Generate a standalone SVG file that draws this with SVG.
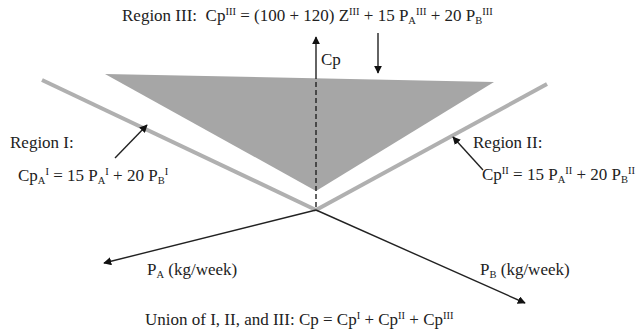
<svg xmlns="http://www.w3.org/2000/svg" width="643" height="331" viewBox="0 0 643 331">
<defs>
<marker id="ah" viewBox="0 0 10 10" refX="9" refY="5" markerWidth="8" markerHeight="8" markerUnits="userSpaceOnUse" orient="auto"><path d="M0,0 L10,5 L0,10 z" fill="#111"/></marker>
</defs>
<style>
text{font-family:"Liberation Serif","Times New Roman",serif;font-size:17px;fill:#222}
.s{font-size:10.5px}
.ax{stroke:#222;stroke-width:1.4;fill:none}
.gl{stroke:#b0b0b0;stroke-width:4;fill:none}
</style>
<rect width="643" height="331" fill="#fff"/>
<g id="regionIII-plane"><polygon points="105,74 494,82 316,191" fill="#a6a6a6"/></g>
<g id="regionI-line"><line class="gl" x1="42" y1="80" x2="316" y2="210"/></g>
<g id="regionII-line"><line class="gl" x1="547" y1="84" x2="316" y2="210"/></g>
<g id="connectors">
<line class="ax" x1="316" y1="74" x2="316" y2="37" marker-end="url(#ah)"/>
<line class="ax" x1="316" y1="74" x2="316" y2="210" stroke-dasharray="5,3"/>
<line class="ax" x1="316" y1="210" x2="104" y2="263" marker-end="url(#ah)"/>
<line class="ax" x1="316" y1="210" x2="525" y2="303" marker-end="url(#ah)"/>
<line class="ax" x1="378" y1="33" x2="378" y2="73" marker-end="url(#ah)"/>
<line class="ax" x1="115" y1="158" x2="147" y2="125" marker-end="url(#ah)"/>
<line class="ax" x1="483" y1="170" x2="453" y2="137" marker-end="url(#ah)"/>
</g>
<g id="title"><text x="122" y="21">Region III:&#160; Cp<tspan class="s" dy="-6">III</tspan><tspan dy="6"> = (100 + 120) Z</tspan><tspan class="s" dy="-6">III</tspan><tspan dy="6"> + 15 P</tspan><tspan class="s" dy="3">A</tspan><tspan class="s" dy="-9">III</tspan><tspan dy="6"> + 20 P</tspan><tspan class="s" dy="3">B</tspan><tspan class="s" dy="-9">III</tspan></text></g>
<g id="cp-label"><text x="321" y="65">Cp</text></g>
<g id="regionI"><text x="10" y="148">Region I:</text>
<text x="18" y="181">Cp<tspan class="s" dy="3">A</tspan><tspan class="s" dy="-9">I</tspan><tspan dy="6"> = 15 P</tspan><tspan class="s" dy="3">A</tspan><tspan class="s" dy="-9">I</tspan><tspan dy="6"> + 20 P</tspan><tspan class="s" dy="3">B</tspan><tspan class="s" dy="-9">I</tspan></text></g>
<g id="regionII"><text x="473" y="148">Region II:</text>
<text x="482" y="180">Cp<tspan class="s" dy="-6">II</tspan><tspan dy="6"> = 15 P</tspan><tspan class="s" dy="3">A</tspan><tspan class="s" dy="-9">II</tspan><tspan dy="6"> + 20 P</tspan><tspan class="s" dy="3">B</tspan><tspan class="s" dy="-9">II</tspan></text></g>
<g id="pa-label"><text x="147" y="275">P<tspan class="s" dy="3">A</tspan><tspan dy="-3"> (kg/week)</tspan></text></g>
<g id="pb-label"><text x="480" y="275">P<tspan class="s" dy="3">B</tspan><tspan dy="-3"> (kg/week)</tspan></text></g>
<g id="union"><text x="145" y="325">Union of I, II, and III: Cp = Cp<tspan class="s" dy="-6">I</tspan><tspan dy="6"> + Cp</tspan><tspan class="s" dy="-6">II</tspan><tspan dy="6"> + Cp</tspan><tspan class="s" dy="-6">III</tspan></text></g>
</svg>
